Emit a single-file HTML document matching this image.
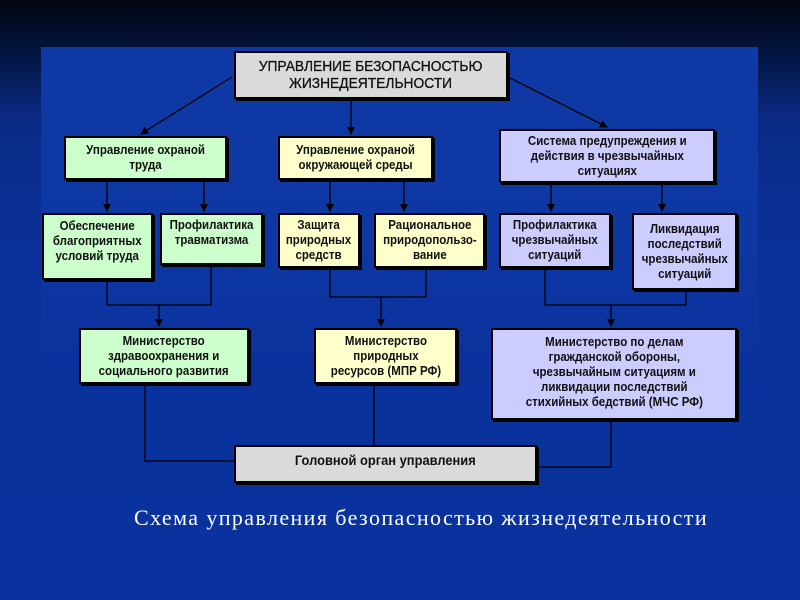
<!DOCTYPE html>
<html><head><meta charset="utf-8"><style>
html,body{margin:0;padding:0}
body{width:800px;height:600px;position:relative;overflow:hidden;
background:linear-gradient(to bottom,#01050f 0px,#04143d 50px,#0a2a86 120px,#0a319c 260px,#0a329e 600px);
font-family:"Liberation Sans",sans-serif}
.panel{position:absolute;left:41px;top:47px;width:717px;height:553px;background:linear-gradient(to bottom,#0f3aa6 0px,#0d37a3 200px,rgba(10,50,158,0) 330px)}
.b{position:absolute;box-sizing:border-box;border:2px solid #000;box-shadow:2px 2px 0 #000;
display:flex;align-items:center;justify-content:center;text-align:center;font-weight:bold;
font-size:12.5px;line-height:15px;color:#111}
.b span{display:inline-block;transform:scaleX(0.92);white-space:nowrap}
.g{background:#ccffcc}.y{background:#ffffcc}.p{background:#ccccff}.w{background:#dadada}
svg{position:absolute;left:0;top:0}
.cap{position:absolute;left:134px;top:505px;font-family:"Liberation Serif",serif;font-size:22px;letter-spacing:1.4px;color:#fff;white-space:nowrap}
</style></head><body>
<div class="panel"></div>
<svg width="800" height="600">
<defs><marker id="a" markerWidth="8" markerHeight="8" refX="7" refY="4" orient="auto" markerUnits="userSpaceOnUse"><path d="M0,0 L8,4 L0,8z" fill="#000"/></marker></defs>
<g stroke="#000" stroke-width="1.3" fill="none">
<line x1="232" y1="77" x2="141" y2="134" marker-end="url(#a)"/>
<line x1="351" y1="100" x2="351" y2="134" marker-end="url(#a)"/>
<line x1="508" y1="77" x2="607" y2="127" marker-end="url(#a)"/>
<line x1="107" y1="180" x2="107" y2="211" marker-end="url(#a)"/>
<line x1="204" y1="180" x2="204" y2="211" marker-end="url(#a)"/>
<line x1="330" y1="180" x2="330" y2="211" marker-end="url(#a)"/>
<line x1="404" y1="180" x2="404" y2="211" marker-end="url(#a)"/>
<line x1="551" y1="183" x2="551" y2="211" marker-end="url(#a)"/>
<line x1="662" y1="183" x2="662" y2="211" marker-end="url(#a)"/>
<polyline points="107,280 107,305 211,305 211,265"/>
<line x1="159" y1="305" x2="159" y2="326" marker-end="url(#a)"/>
<polyline points="330,268 330,297 426,297 426,268"/>
<line x1="381" y1="297" x2="381" y2="326" marker-end="url(#a)"/>
<polyline points="545,268 545,305 686,305 686,290"/>
<line x1="611" y1="305" x2="611" y2="326" marker-end="url(#a)"/>
<polyline points="145,384 145,461 234,461"/>
<line x1="374" y1="384" x2="374" y2="445"/>
<polyline points="611,420 611,467 537,467"/>
</g></svg>
<div class="b w" style="left:234px;top:51px;width:274px;height:48px;font-size:15px;line-height:17px;font-weight:normal"><span style="-webkit-text-stroke:0.3px #111">УПРАВЛЕНИЕ БЕЗОПАСНОСТЬЮ<br>ЖИЗНЕДЕЯТЕЛЬНОСТИ</span></div>
<div class="b g" style="left:64px;top:136px;width:163px;height:44px"><span>Управление охраной<br>труда</span></div>
<div class="b y" style="left:278px;top:136px;width:155px;height:44px"><span>Управление охраной<br>окружающей среды</span></div>
<div class="b p" style="left:499px;top:129px;width:216px;height:54px"><span>Система предупреждения и<br>действия в чрезвычайных<br>ситуациях</span></div>
<div class="b g" style="left:42px;top:213px;width:111px;height:67px;align-items:flex-start;padding-top:4px"><span>Обеспечение<br>благоприятных<br>условий труда</span></div>
<div class="b g" style="left:160px;top:213px;width:103px;height:52px;align-items:flex-start;padding-top:3px"><span>Профилактика<br>травматизма</span></div>
<div class="b y" style="left:278px;top:213px;width:82px;height:55px"><span>Защита<br>природных<br>средств</span></div>
<div class="b y" style="left:374px;top:213px;width:111px;height:55px"><span>Рациональное<br>природопользо-<br>вание</span></div>
<div class="b p" style="left:499px;top:213px;width:112px;height:55px"><span>Профилактика<br>чрезвычайных<br>ситуаций</span></div>
<div class="b p" style="left:632px;top:213px;width:105px;height:77px"><span>Ликвидация<br>последствий<br>чрезвычайных<br>ситуаций</span></div>
<div class="b g" style="left:79px;top:328px;width:170px;height:56px"><span>Министерство<br>здравоохранения и<br>социального развития</span></div>
<div class="b y" style="left:314px;top:328px;width:143px;height:56px"><span>Министерство<br>природных<br>ресурсов (МПР РФ)</span></div>
<div class="b p" style="left:491px;top:328px;width:246px;height:92px;align-items:flex-start;padding-top:5px"><span>Министерство по делам<br>гражданской обороны,<br>чрезвычайным ситуациям и<br>ликвидации последствий<br>стихийных бедствий (МЧС РФ)</span></div>
<div class="b w" style="left:234px;top:445px;width:303px;height:38px;align-items:flex-start;padding-top:6px;font-size:14px"><span>Головной орган управления</span></div>
<div class="cap">Схема управления безопасностью жизнедеятельности</div>
</body></html>
